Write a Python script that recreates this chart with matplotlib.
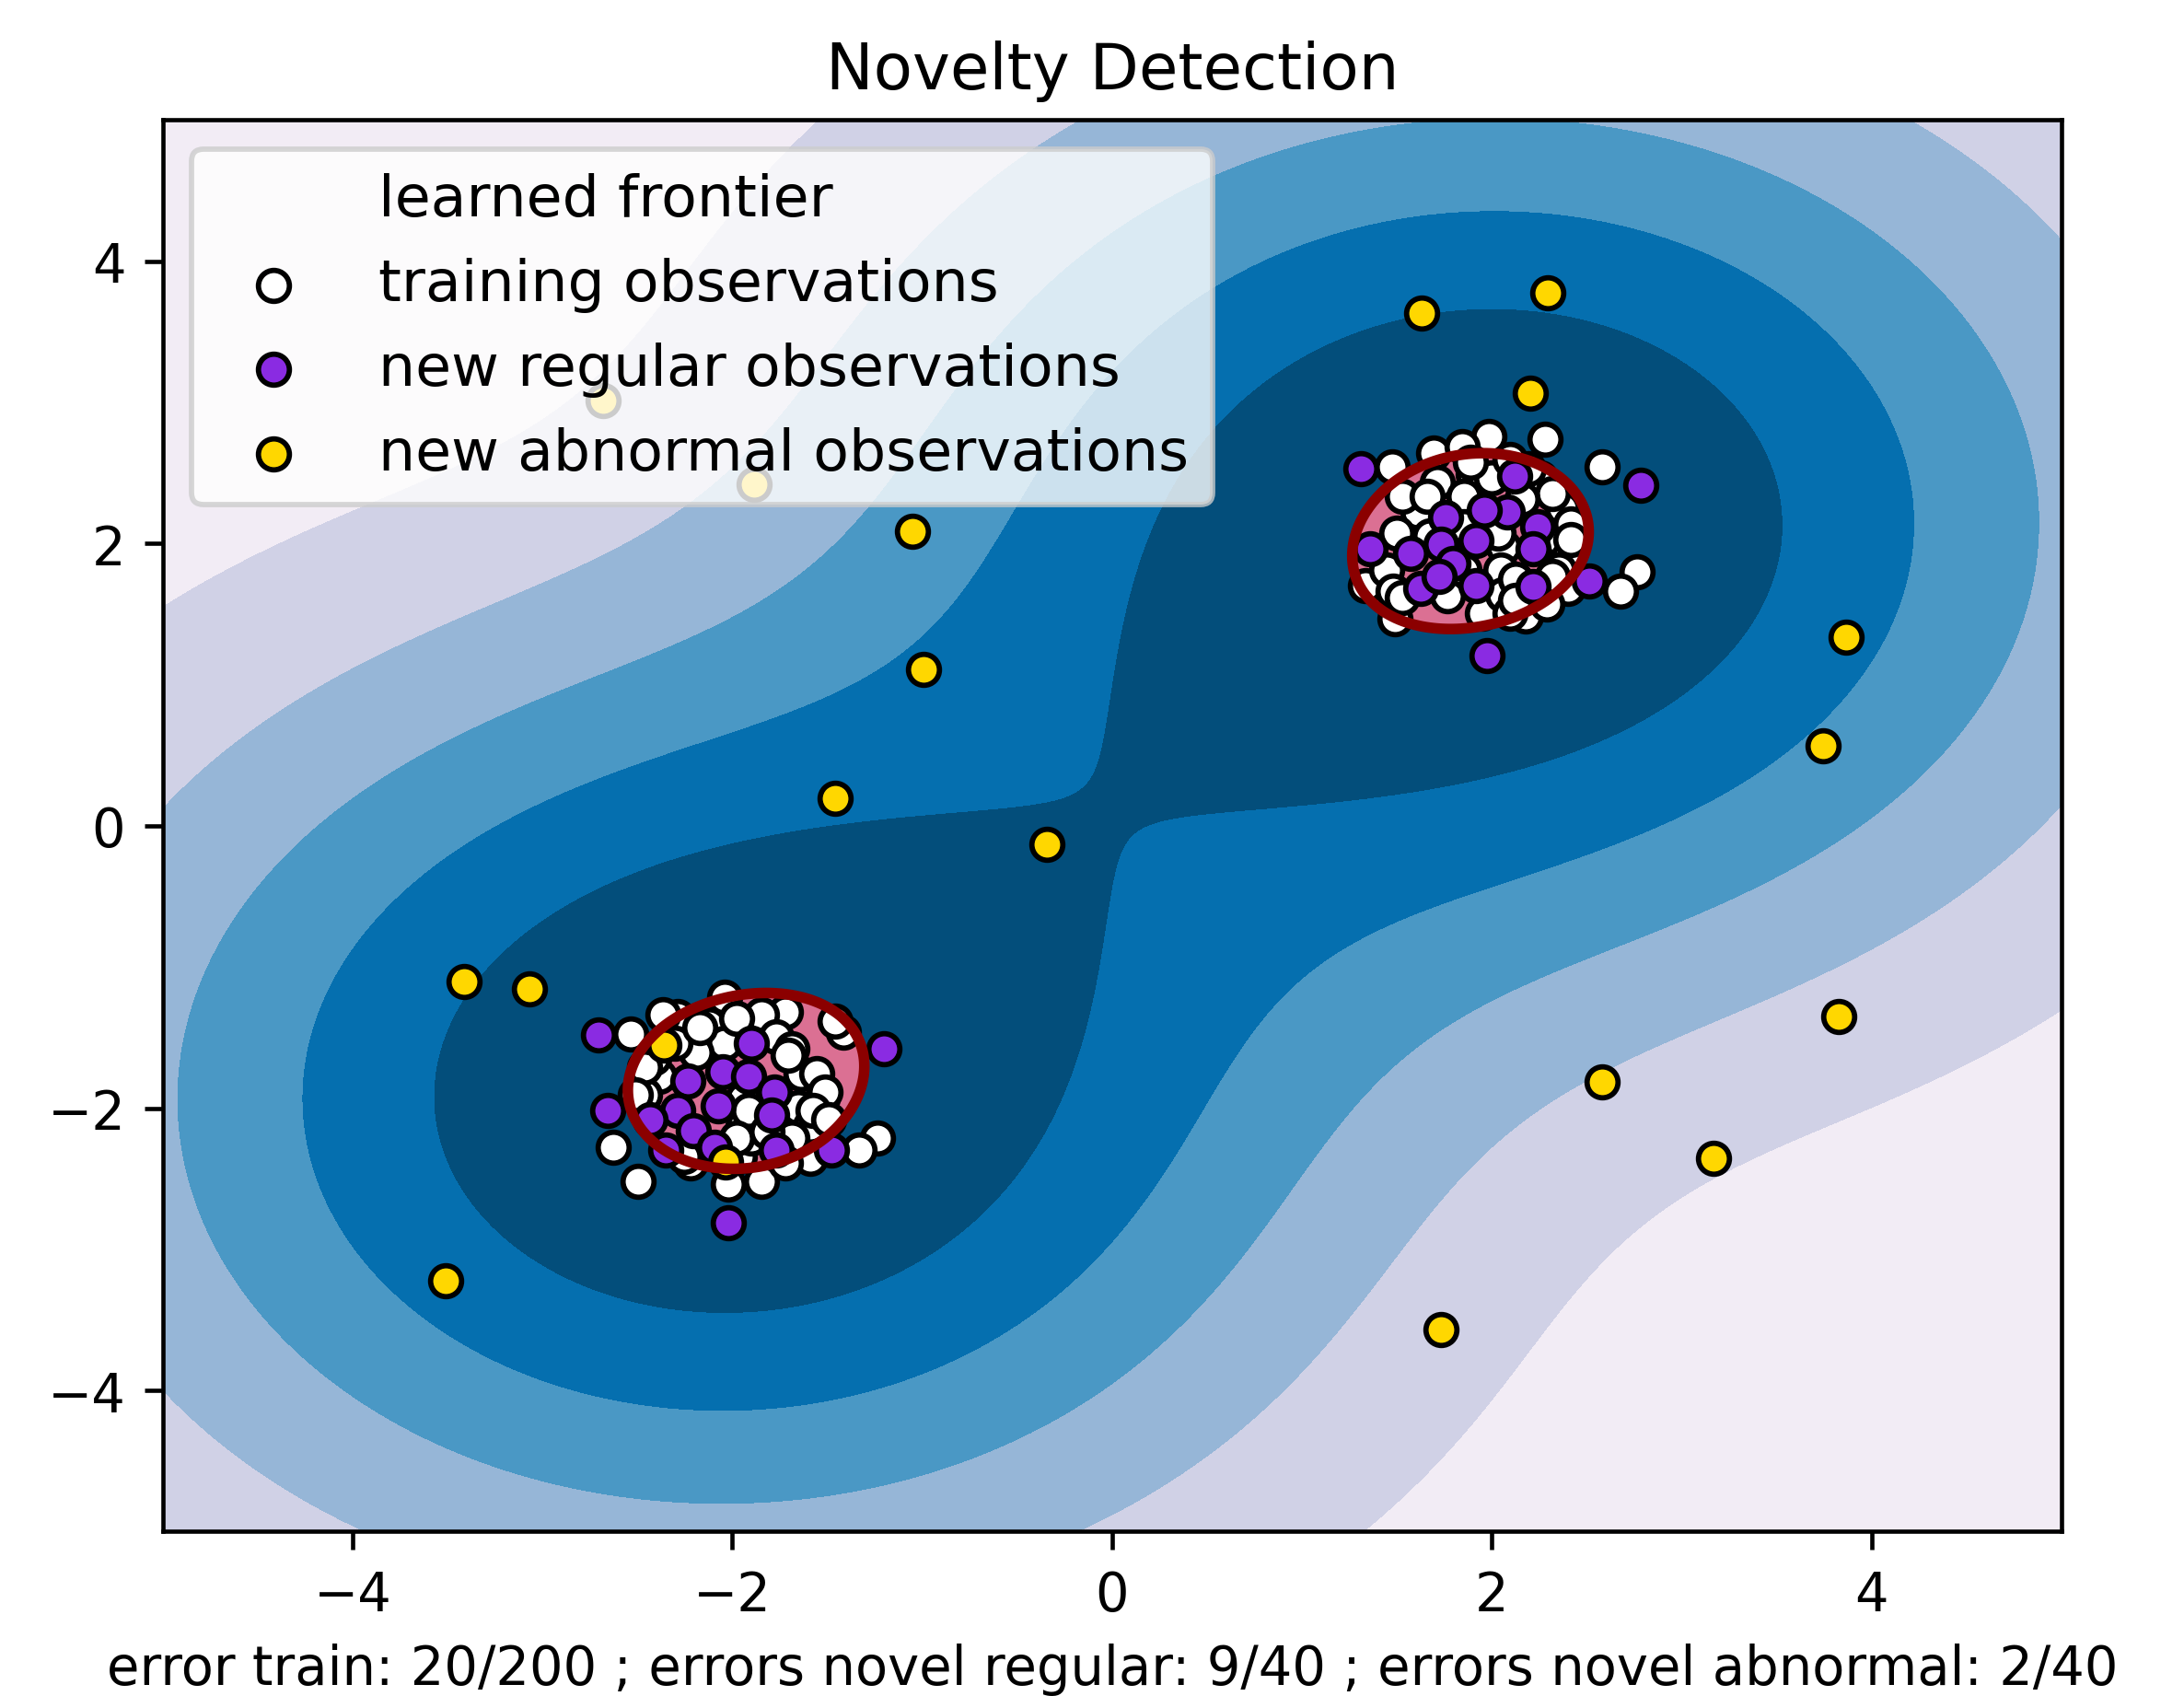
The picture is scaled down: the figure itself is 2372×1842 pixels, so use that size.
import numpy as np
import matplotlib
matplotlib.use("Agg")
import matplotlib.pyplot as plt
import matplotlib.font_manager
from matplotlib.lines import Line2D

# training observations (upper-right and lower-left clusters)
train_upper = [(1.473, 2.542), (1.691, 2.640), (1.982, 2.760), (2.281, 2.738), (2.580, 2.542),
               (2.766, 1.802), (2.677, 1.661), (1.489, 1.465), (1.335, 1.705), (1.844, 2.684),
               (2.402, 1.683), (2.176, 1.487), (1.950, 1.509), (1.715, 2.433), (1.610, 2.227),
               (2.370, 2.249), (2.257, 2.466), (1.901, 2.488), (1.998, 2.466), (2.370, 2.009),
               (2.402, 1.900), (2.063, 1.976), (2.047, 1.813), (1.448, 1.813), (1.764, 1.629),
               (2.055, 1.639), (2.127, 1.748), (1.529, 2.336), (2.321, 2.357), (2.160, 2.314),
               (1.853, 2.336), (1.497, 2.074), (2.354, 1.813), (1.853, 1.813), (2.095, 1.509),
               (1.481, 1.661), (2.418, 2.140), (1.675, 2.053), (1.529, 1.617), (2.289, 1.574),
               (1.885, 2.575), (2.095, 2.597), (2.192, 2.531), (2.418, 2.031), (2.321, 1.770),
               (2.031, 2.074), (1.853, 2.118), (1.659, 2.336), (2.127, 1.596)]
train_lower = [(-2.536, -1.472), (-2.625, -2.277), (-2.496, -2.516), (-1.235, -2.212), (-1.332, -2.299),
               (-1.591, -2.353), (-1.413, -1.461), (-2.043, -1.211), (-2.019, -2.538), (-1.849, -2.516),
               (-2.286, -1.352), (-1.720, -1.320), (-1.849, -1.341), (-2.383, -1.777), (-1.639, -1.755),
               (-1.558, -1.755), (-1.655, -1.994), (-1.591, -2.125), (-1.769, -1.494), (-2.124, -1.407),
               (-2.043, -1.537), (-2.189, -1.603), (-1.946, -1.929), (-1.946, -2.125), (-1.963, -2.343),
               (-1.898, -2.212), (-1.688, -1.581), (-1.526, -1.929), (-1.461, -1.385), (-2.221, -2.386),
               (-2.415, -1.646), (-1.688, -2.212), (-2.367, -1.341), (-1.526, -2.038), (-2.464, -1.907),
               (-1.720, -2.386), (-2.302, -1.537), (-1.704, -1.625), (-1.510, -1.886), (-1.575, -2.016),
               (-1.494, -2.082), (-1.914, -2.016), (-1.979, -2.212), (-1.817, -2.168), (-2.173, -1.429),
               (-1.979, -1.364), (-2.464, -1.711), (-2.254, -2.343), (-2.512, -1.907)]

# new regular observations
regular_upper = [(1.311, 2.531), (2.119, 2.477), (2.782, 2.412), (1.756, 2.183), (2.079, 2.227),
                 (1.958, 2.238), (2.241, 2.118), (1.917, 2.020), (2.216, 1.966), (1.570, 1.933),
                 (1.731, 1.998), (1.796, 1.857), (1.359, 1.966), (1.626, 1.683), (1.917, 1.705),
                 (2.216, 1.694), (2.515, 1.737), (1.974, 1.204), (1.723, 1.770)]
regular_lower = [(-2.706, -1.483), (-1.203, -1.581), (-1.898, -1.537), (-2.237, -1.809), (-2.051, -1.744),
                 (-1.914, -1.777), (-1.777, -1.886), (-2.076, -1.984), (-2.286, -2.016), (-2.431, -2.081),
                 (-2.658, -2.016), (-2.205, -2.157), (-1.793, -2.049), (-2.092, -2.277), (-2.350, -2.299),
                 (-1.769, -2.299), (-1.478, -2.299), (-2.019, -2.810)]

# new abnormal observations
abnormal = [(-2.682, 3.014), (-1.885, 2.420), (-1.053, 2.088), (-0.992, 1.110), (-1.461, 0.194),
            (-0.345, -0.128), (-3.415, -1.102), (-3.071, -1.156), (-3.511, -3.225), (-2.360, -1.555),
            (-2.035, -2.379), (1.632, 3.633), (2.296, 3.777), (2.200, 3.068), (3.868, 1.334),
            (3.746, 0.570), (3.826, -1.348), (2.583, -1.811), (3.166, -2.357), (1.731, -3.570)]

# approximate decision surface: one rbf bump per cluster, merged softly
centers = [(2.02, 2.15), (-2.06, -1.94)]
frontier_pts = [(1.32, 2.05), (2.52, 2.05), (1.92, 2.66), (1.92, 1.44),
                (-2.585, -1.84), (-1.33, -1.84), (-1.96, -1.22), (-1.96, -2.46)]
gamma = 0.085
merge_a = 1.1
merge_b = 0.22

n_error_train = 20
n_error_test = 9
n_error_outliers = 2


def decision(px, py):
    k1, k2 = [np.exp(-gamma * ((px - cx) ** 2 + (py - cy) ** 2)) for cx, cy in centers]
    hi = np.maximum(k1, k2)
    lo = np.minimum(k1, k2)
    p = merge_a + merge_b / (k1 + k2)
    return hi * (1.0 + (lo / hi) ** p) ** (1.0 / p)


fp = np.array(frontier_pts)
rho = decision(fp[:, 0], fp[:, 1]).mean()

xx, yy = np.meshgrid(np.linspace(-5, 5, 500), np.linspace(-5, 5, 500))
Z = decision(xx, yy) - rho

X_train = np.array(train_upper + train_lower)
X_test = np.array(regular_upper + regular_lower)
X_outliers = np.array(abnormal)

fig = plt.figure(figsize=(2372 / 415, 1843 / 415), dpi=415)
ax = fig.add_axes([0.0745, 0.0969, 0.8694, 0.8318])

ax.set_title("Novelty Detection")
ax.contourf(xx, yy, Z, levels=np.linspace(Z.min(), 0, 7), cmap=plt.cm.PuBu)
ax.contour(xx, yy, Z, levels=[0], linewidths=2, colors="darkred")
ax.contourf(xx, yy, Z, levels=[0, Z.max()], colors="palevioletred")

s = 34
b1 = ax.scatter(X_train[:, 0], X_train[:, 1], c="white", s=s, edgecolors="k", linewidths=1.0)
b2 = ax.scatter(X_test[:, 0], X_test[:, 1], c="blueviolet", s=s, edgecolors="k", linewidths=1.0)
c = ax.scatter(X_outliers[:, 0], X_outliers[:, 1], c="gold", s=s, edgecolors="k", linewidths=1.0)

ax.set_xlim((-5, 5))
ax.set_ylim((-5, 5))

blank = Line2D([], [], color="none")
ax.legend([blank, b1, b2, c],
          ["learned frontier", "training observations",
           "new regular observations", "new abnormal observations"],
          loc="upper left",
          prop=matplotlib.font_manager.FontProperties(size=11))
ax.set_xlabel(
    "error train: %d/200 ; errors novel regular: %d/40 ; errors novel abnormal: %d/40"
    % (n_error_train, n_error_test, n_error_outliers))

fig.savefig("out.png", dpi=415)
